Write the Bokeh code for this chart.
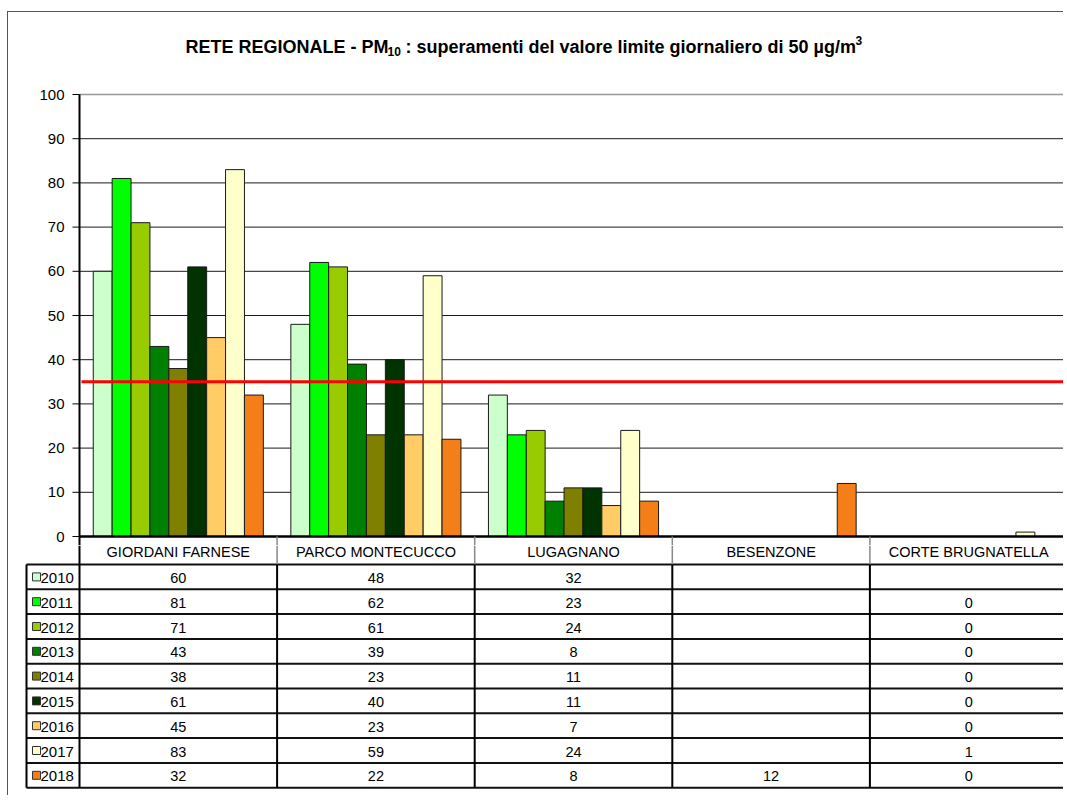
from bokeh.plotting import figure
from bokeh.models import Range1d
from bokeh.layouts import column
from bokeh.embed import file_html
from bokeh.resources import INLINE
from bokeh.core.properties import value

# ---------------- data ----------------
stations = ["GIORDANI FARNESE", "PARCO MONTECUCCO", "LUGAGNANO", "BESENZONE", "CORTE BRUGNATELLA"]
years = ["2010", "2011", "2012", "2013", "2014", "2015", "2016", "2017", "2018"]
colors = ["#CCFFCC", "#00FF00", "#99CC00", "#008000", "#808000", "#003300", "#FFCC66", "#FFFFCC", "#F47E17"]
v2010 = [60, 48, 32, None, None]
v2011 = [81, 62, 23, None, 0]
v2012 = [71, 61, 24, None, 0]
v2013 = [43, 39, 8, None, 0]
v2014 = [38, 23, 11, None, 0]
v2015 = [61, 40, 11, None, 0]
v2016 = [45, 23, 7, None, 0]
v2017 = [83, 59, 24, None, 1]
v2018 = [32, 22, 8, 12, 0]
series = [v2010, v2011, v2012, v2013, v2014, v2015, v2016, v2017, v2018]
limit_value = 35
y_ticks = [0, 10, 20, 30, 40, 50, 60, 70, 80, 90, 100]
title_main = "RETE REGIONALE - PM"
title_sub = "10"
title_rest = ":  superamenti del valore limite giornaliero di 50 \u00b5g/m"
title_sup = "3"

# ---------------- layout constants (page pixels) ----------------
FONT = "Liberation Sans"
PAGE_W = 1067
RIGHT_PX = 1063          # right edge of the drawn area
FIG_X = 8                # after 7px margin + 1px border
FIG_Y = 12               # after 11px margin + 1px border
W = RIGHT_PX - FIG_X
FRAME_L = 79             # page x of the value axis
GROUP_PX = (PAGE_W - FRAME_L) / len(stations)
Y100 = 94                # page y of value 100
Y0 = 536                 # page y of value 0
PPU = (Y0 - Y100) / 100.0
TOP_BOTTOM = 545         # page y where the chart figure ends
TABLE_END = 795
BAR_W = 18.9 / GROUP_PX
NS = len(stations)


def gx(px):
    return (px - FRAME_L) / GROUP_PX


def vy(py):
    return (Y0 - py) / PPU


# ---------------- chart ----------------
p = figure(width=W, height=TOP_BOTTOM - FIG_Y, output_backend="svg", toolbar_location=None,
           x_range=Range1d(gx(FIG_X), gx(RIGHT_PX)), y_range=Range1d(vy(TOP_BOTTOM), vy(FIG_Y)),
           x_axis_location=None, y_axis_location=None, min_border=0)
p.outline_line_color = None
p.grid.visible = False

grid_vals = y_ticks[:-1]
p.segment(x0=[0] * len(grid_vals), y0=grid_vals, x1=[NS] * len(grid_vals), y1=grid_vals,
          line_color="#1a1a1a", line_width=1)
p.segment(x0=[0], y0=[y_ticks[-1]], x1=[NS], y1=[y_ticks[-1]], line_color="#999999", line_width=1.5)

# value axis: ticks and labels
p.segment(x0=[gx(72)] * len(y_ticks), y0=y_ticks, x1=[0] * len(y_ticks), y1=y_ticks,
          line_color="#000000", line_width=1)
p.text(x=[gx(64)] * len(y_ticks), y=y_ticks, text=[str(v) for v in y_ticks], text_font=value(FONT),
       text_font_size="15px", text_align="right", text_baseline="middle", text_color="#000000")

# bars
for j, (yr, col, vals) in enumerate(zip(years, colors, series)):
    xs, tops = [], []
    for i, v in enumerate(vals):
        if v is not None:
            xs.append(i + 0.5 + (j - (len(years) - 1) / 2) * BAR_W)
            tops.append(v)
    p.vbar(x=xs, top=tops, bottom=0, width=BAR_W, fill_color=col,
           line_color="#1a1a1a", line_width=1)

# limit line
p.segment(x0=[gx(81)], y0=[limit_value], x1=[NS], y1=[limit_value], line_color="#FF0000", line_width=3)

# axis lines
p.segment(x0=[0], y0=[y_ticks[-1]], x1=[0], y1=[vy(TOP_BOTTOM)], line_color="#000000", line_width=2)
p.segment(x0=[0], y0=[0], x1=[NS], y1=[0], line_color="#000000", line_width=2.5)
inner = list(range(1, NS))
p.segment(x0=inner, y0=[0] * len(inner), x1=inner, y1=[vy(TOP_BOTTOM)] * len(inner),
          line_color="#888888", line_width=1.5)

# title pieces
TY = vy(46)
fs_main = "18px"
fs_small = "12px"
p.text(x=[gx(185)], y=[TY], text=[title_main], text_font=value(FONT), text_font_size=fs_main,
       text_font_style="bold", text_align="left", text_baseline="middle", text_color="#000000")
p.text(x=[gx(387)], y=[TY], y_offset=5, text=[title_sub], text_font=value(FONT), text_font_size=fs_small,
       text_font_style="bold", text_align="left", text_baseline="middle", text_color="#000000")
p.text(x=[gx(405)], y=[TY], text=[title_rest], text_font=value(FONT), text_font_size=fs_main,
       text_font_style="bold", text_align="left", text_baseline="middle", text_color="#000000")
p.text(x=[gx(855)], y=[TY], y_offset=-6, text=[title_sup], text_font=value(FONT), text_font_size=fs_small,
       text_font_style="bold", text_align="left", text_baseline="middle", text_color="#000000")

# ---------------- data table ----------------
HEADER_BOTTOM = 564
ROW_H = 24.8
n = len(years)
t = figure(width=W, height=TABLE_END - TOP_BOTTOM, output_backend="svg", toolbar_location=None,
           x_range=Range1d(gx(FIG_X), gx(RIGHT_PX)), y_range=Range1d(TABLE_END, TOP_BOTTOM),
           x_axis_location=None, y_axis_location=None, min_border=0)
t.grid.visible = False
t.outline_line_color = None

leg_left = gx(26)
table_bottom = HEADER_BOTTOM + ROW_H * n
hy = [HEADER_BOTTOM + ROW_H * k for k in range(n + 1)]
t.segment(x0=[leg_left] * len(hy), y0=hy, x1=[NS] * len(hy), y1=hy,
          line_color="#111111", line_width=2)
t.segment(x0=[leg_left, 0], y0=[HEADER_BOTTOM, TOP_BOTTOM], x1=[leg_left, 0], y1=[table_bottom, table_bottom],
          line_color="#000000", line_width=2)
t.segment(x0=inner, y0=[TOP_BOTTOM] * len(inner), x1=inner, y1=[HEADER_BOTTOM] * len(inner),
          line_color="#888888", line_width=1.5)
t.segment(x0=inner, y0=[HEADER_BOTTOM] * len(inner), x1=inner, y1=[table_bottom] * len(inner),
          line_color="#000000", line_width=2)

# header texts
t.text(x=[i + 0.5 for i in range(NS)], y=[551] * NS, text=stations,
       text_font=value(FONT), text_font_size="14.5px", text_align="center",
       text_baseline="middle", text_color="#000000")

# legend keys and years
row_c = [HEADER_BOTTOM + ROW_H * (k + 0.5) for k in range(n)]
t.rect(x=[gx(36)] * n, y=row_c, width=8, height=8, width_units="screen",
       height_units="screen", fill_color=colors, line_color="#333333", line_width=1)
t.text(x=[gx(40)] * n, y=[c + 1 for c in row_c], text=years, text_font=value(FONT),
       text_font_size="15px", text_align="left", text_baseline="middle", text_color="#000000")

# values
vx_, vy_, vt_ = [], [], []
for k, vals in enumerate(series):
    for i, v in enumerate(vals):
        if v is not None:
            vx_.append(i + 0.5)
            vy_.append(row_c[k] + 1)
            vt_.append(str(v))
t.text(x=vx_, y=vy_, text=vt_, text_font=value(FONT), text_font_size="14.5px",
       text_align="center", text_baseline="middle", text_color="#000000")

layout = column(p, t, spacing=0, margin=(11, 0, 0, 7),
                styles={"border-left": "1px solid #555555", "border-top": "1px solid #555555"})

open("out.html", "w").write(file_html(layout, INLINE))
